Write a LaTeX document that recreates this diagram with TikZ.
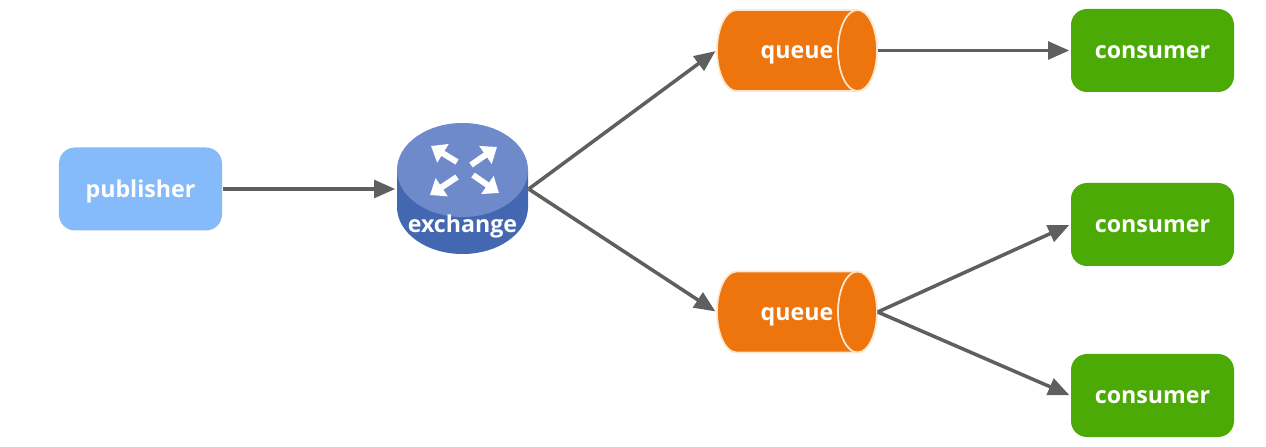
\documentclass[tikz,border=0pt]{standalone}
\usepackage{fontspec}
\usepackage{xcolor}
\usepackage{tikz}
\usetikzlibrary{arrows.meta}
\setmainfont{Open Sans}

\definecolor{pubblue}{HTML}{85BBFA}
\definecolor{extop}{HTML}{6E8ACB}
\definecolor{exside}{HTML}{4467B2}
\definecolor{queueorange}{HTML}{EE750D}
\definecolor{queueedge}{HTML}{FDE6CC}
\definecolor{consgreen}{HTML}{4BAA05}
\definecolor{linkgray}{HTML}{5F5F5F}

\tikzset{
  boxlabel/.style={text=white, font=\bfseries\fontsize{6.6}{8}\selectfont, inner sep=0pt, text height=1ex, text depth=0.56pt},
  roundbox/.style={rounded corners=0.16cm, minimum width=1.63cm, minimum height=0.83cm, inner sep=0pt},
  publisher/.style={roundbox, fill=pubblue},
  consumer/.style={roundbox, fill=consgreen},
  queuebox/.style={minimum width=1.6cm, minimum height=0.81cm, inner sep=0pt},
  queueshape/.style={fill=queueorange, draw=queueedge, line width=0.5pt},
  exchangebox/.style={minimum width=1.31cm, minimum height=1.31cm, inner sep=0pt},
  link/.style={draw=linkgray, line width=1pt, shorten >=0.01cm, -{Triangle[length=6pt,width=5pt]}},
  swap/.style={draw=white, line width=1.7pt, -{Triangle[length=4pt,width=6pt]}}
}

% a lying drum with its label: name, centre, text
\newcommand{\queuedrum}[3]{
  \draw[queueshape] (#2) ++(-0.605,0.405) arc (90:270:0.195 and 0.405) -- ++(1.21,0)
    arc (-90:90:0.195 and 0.405) -- cycle;
  \draw[queueshape, fill=none] (#2) ++(0.605,0.405) arc (90:270:0.195 and 0.405);
  \node (#1) [queuebox, boxlabel] at (#2) {#3};
}

\begin{document}
\begin{tikzpicture}
\useasboundingbox (0,0) rectangle (12.66,4.47);

\node (pub) [publisher, boxlabel] at (1.405,2.58) {publisher};

% the exchange drum and its four arrows
\fill[exside] (3.97,2.77) -- (3.97,2.40) arc (180:360:0.655 and 0.47) -- (5.28,2.77) -- cycle;
\fill[extop] (4.625,2.77) ellipse (0.655 and 0.47);
\node (ex) [exchangebox] at (4.625,2.58) {};
\node (exname) [boxlabel] at (4.625,2.23) {exchange};
\draw[swap] (4.57,2.85) -- (4.31,3.01);
\draw[swap] (4.71,2.82) -- (4.97,3.00);
\draw[swap] (4.57,2.70) -- (4.30,2.52);
\draw[swap] (4.73,2.72) -- (4.99,2.54);

\queuedrum{q1}{7.97,3.965}{queue}
\queuedrum{q2}{7.97,1.35}{queue}

\node (c1) [consumer, boxlabel] at (11.525,3.965) {consumer};
\node (c2) [consumer, boxlabel] at (11.525,2.225) {consumer};
\node (c3) [consumer, boxlabel] at (11.525,0.515) {consumer};

\draw[link] (pub.east) -- (ex.west);
\draw[link] (ex.east) -- (q1.west);
\draw[link] (ex.east) -- (q2.west);
\draw[link] (q1.east) -- (c1.west);
\draw[link] (q2.east) -- (c2.west);
\draw[link] (q2.east) -- (c3.west);

\end{tikzpicture}
\end{document}
